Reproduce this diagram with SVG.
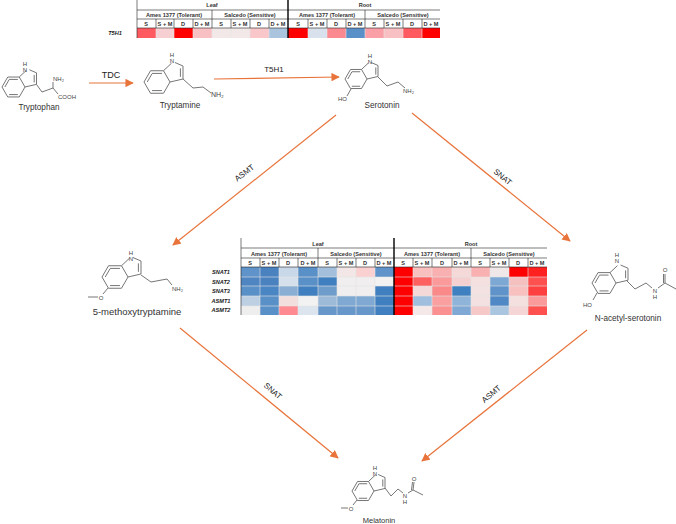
<svg xmlns="http://www.w3.org/2000/svg" width="676" height="524" viewBox="0 0 676 524">
<style>
text{font-family:"Liberation Sans",Arial,sans-serif;fill:#222}
.b{fill:none;stroke:#666;stroke-width:.9;vector-effect:non-scaling-stroke}
.a{fill:#444;font-size:6px}
.m{fill:#333;font-size:8.200px;text-anchor:middle}
.e{fill:#222;font-size:8px;text-anchor:middle}
.h{font-size:5.600px;font-weight:bold;text-anchor:middle;fill:#333}
.g{font-size:5.600px;font-weight:bold;font-style:italic;text-anchor:middle;fill:#222}
.l{stroke:#222;stroke-width:.6;fill:none}
.w{stroke:#e4e4e4;stroke-width:.6;fill:none}
.t{stroke:#000;stroke-width:1.400;fill:none}
.c{fill:none;stroke:#e8743b;stroke-width:1.200;marker-end:url(#ah)}
</style>
<defs>
<marker id="ah" viewBox="0 0 10 10" refX="9" refY="5" markerWidth="7" markerHeight="7" orient="auto"><path d="M0 0L10 5L0 10z" fill="#e8743b"/></marker>
<path id="indole" class="b" d="M-20 0L-15 -8.660L-5 -8.660L0 0L-5 8.660L-15 8.660ZM-17.500 0L-13.800 -6.400M-6.200 -6.600H-13.800M-6.200 6.600H-13.800M-5 -8.660L1.200 -14.500M3.800 -15L10 -12.300L10 -2.300L0 0M8 -10.500V-4"/>
</defs>
<rect width="676" height="524" fill="#fff"/>
<g id="connectors">
<path class="c" d="M89 83H133"/>
<path class="c" d="M214 79L339 77"/>
<path class="c" d="M336 115L173 245"/>
<path class="c" d="M412 113L570 241"/>
<path class="c" d="M180 328L338 458"/>
<path class="c" d="M587 330L422 461"/>
<text class="e" x="111" y="78" style="font-size:9px">TDC</text>
<text class="e" x="274" y="72">T5H1</text>
<text class="e" transform="translate(246,175) rotate(-38)">ASMT</text>
<text class="e" transform="translate(501,179) rotate(39)">SNAT</text>
<text class="e" transform="translate(271,393) rotate(41)">SNAT</text>
<text class="e" transform="translate(493,396) rotate(-41)">ASMT</text>
</g>
<g id="heatmap-top">
<g id="top-cells">
<rect x="137" y="28" width="19" height="10" fill="#ff5a5f"/><rect x="156" y="28" width="18" height="10" fill="#f6cfd2"/><rect x="174" y="28" width="19" height="10" fill="#ff0000"/><rect x="193" y="28" width="19" height="10" fill="#f9c0c4"/><rect x="212" y="28" width="19" height="10" fill="#f3e8e8"/><rect x="231" y="28" width="19" height="10" fill="#f3e8e8"/><rect x="250" y="28" width="19" height="10" fill="#f9c6ca"/><rect x="269" y="28" width="19" height="10" fill="#aac4de"/><rect x="288" y="28" width="20" height="10" fill="#ff0000"/><rect x="308" y="28" width="19" height="10" fill="#d9e2ec"/><rect x="327" y="28" width="19" height="10" fill="#fb8a90"/><rect x="346" y="28" width="19" height="10" fill="#5a90c8"/><rect x="365" y="28" width="19" height="10" fill="#fa9fa5"/><rect x="384" y="28" width="19" height="10" fill="#f9c0c4"/><rect x="403" y="28" width="19" height="10" fill="#ff5a5f"/><rect x="422" y="28" width="18" height="10" fill="#ff0000"/>
</g>
<path class="w" d="M156 28V38M174 28V38M193 28V38M212 28V38M231 28V38M250 28V38M269 28V38M308 28V38M327 28V38M346 28V38M365 28V38M384 28V38M403 28V38M422 28V38"/>
<path class="l" d="M137 0V38M137 10H440M137 19H440M137 28H440M212 10V28M365 10V28M156 19V28M174 19V28M193 19V28M231 19V28M250 19V28M269 19V28M308 19V28M327 19V28M346 19V28M384 19V28M403 19V28M422 19V28"/>
<path class="t" d="M288 0V38"/>
<text class="h" x="212" y="7">Leaf</text><text class="h" x="365" y="7">Root</text>
<text class="h" x="174" y="16.500">Ames 1377 (Tolerant)</text><text class="h" x="250" y="16.500">Salcedo (Sensitive)</text><text class="h" x="327" y="16.500">Ames 1377 (Tolerant)</text><text class="h" x="403" y="16.500">Salcedo (Sensitive)</text>
<text class="h" x="146" y="26">S</text><text class="h" x="165" y="26">S + M</text><text class="h" x="183" y="26">D</text><text class="h" x="202" y="26">D + M</text><text class="h" x="221" y="26">S</text><text class="h" x="240" y="26">S + M</text><text class="h" x="259" y="26">D</text><text class="h" x="278" y="26">D + M</text><text class="h" x="298" y="26">S</text><text class="h" x="317" y="26">S + M</text><text class="h" x="336" y="26">D</text><text class="h" x="355" y="26">D + M</text><text class="h" x="374" y="26">S</text><text class="h" x="393" y="26">S + M</text><text class="h" x="412" y="26">D</text><text class="h" x="431" y="26">D + M</text>
<text class="g" x="115" y="35">T5H1</text>
</g>
<g id="heatmap-middle">
<g id="mid-cells">
<rect x="241" y="267" width="19" height="10" fill="#5f93c9"/><rect x="260" y="267" width="19" height="10" fill="#4a82c0"/><rect x="279" y="267" width="19" height="10" fill="#c9d8e8"/><rect x="298" y="267" width="20" height="10" fill="#5a90c8"/><rect x="318" y="267" width="19" height="10" fill="#a3bfdc"/><rect x="337" y="267" width="19" height="10" fill="#f3e6e6"/><rect x="356" y="267" width="19" height="10" fill="#fbd0d0"/><rect x="375" y="267" width="19" height="10" fill="#5f93c9"/><rect x="394" y="267" width="19" height="10" fill="#ff0000"/><rect x="413" y="267" width="19" height="10" fill="#f9c0c0"/><rect x="432" y="267" width="20" height="10" fill="#f9b0b0"/><rect x="452" y="267" width="19" height="10" fill="#f5d8d8"/><rect x="471" y="267" width="19" height="10" fill="#f9b0b0"/><rect x="490" y="267" width="19" height="10" fill="#f0e8e8"/><rect x="509" y="267" width="19" height="10" fill="#ff0000"/><rect x="528" y="267" width="19" height="10" fill="#ff2020"/>
<rect x="241" y="277" width="19" height="9" fill="#4f86c2"/><rect x="260" y="277" width="19" height="9" fill="#4a82c0"/><rect x="279" y="277" width="19" height="9" fill="#d5e0ec"/><rect x="298" y="277" width="20" height="9" fill="#5a90c8"/><rect x="318" y="277" width="19" height="9" fill="#4080c0"/><rect x="337" y="277" width="19" height="9" fill="#f0eeee"/><rect x="356" y="277" width="19" height="9" fill="#f0eeee"/><rect x="375" y="277" width="19" height="9" fill="#f2f2f2"/><rect x="394" y="277" width="19" height="9" fill="#ff0000"/><rect x="413" y="277" width="19" height="9" fill="#ff6060"/><rect x="432" y="277" width="20" height="9" fill="#fa9a9a"/><rect x="452" y="277" width="19" height="9" fill="#f5d0d0"/><rect x="471" y="277" width="19" height="9" fill="#f5e0e0"/><rect x="490" y="277" width="19" height="9" fill="#7da8d4"/><rect x="509" y="277" width="19" height="9" fill="#f5c0c0"/><rect x="528" y="277" width="19" height="9" fill="#ff5050"/>
<rect x="241" y="286" width="19" height="10" fill="#5a90c8"/><rect x="260" y="286" width="19" height="10" fill="#4a86c4"/><rect x="279" y="286" width="19" height="10" fill="#8aaed4"/><rect x="298" y="286" width="20" height="10" fill="#4080c0"/><rect x="318" y="286" width="19" height="10" fill="#6f9dcb"/><rect x="337" y="286" width="19" height="10" fill="#f0eeee"/><rect x="356" y="286" width="19" height="10" fill="#f0eeee"/><rect x="375" y="286" width="19" height="10" fill="#4080c0"/><rect x="394" y="286" width="19" height="10" fill="#ff0000"/><rect x="413" y="286" width="19" height="10" fill="#f5d8d8"/><rect x="432" y="286" width="20" height="10" fill="#fa8a8a"/><rect x="452" y="286" width="19" height="10" fill="#3f80c0"/><rect x="471" y="286" width="19" height="10" fill="#f2e2e2"/><rect x="490" y="286" width="19" height="10" fill="#5f93c9"/><rect x="509" y="286" width="19" height="10" fill="#f9c0c0"/><rect x="528" y="286" width="19" height="10" fill="#ff4040"/>
<rect x="241" y="296" width="19" height="10" fill="#bccfe3"/><rect x="260" y="296" width="19" height="10" fill="#5a90c8"/><rect x="279" y="296" width="19" height="10" fill="#f3dede"/><rect x="298" y="296" width="20" height="10" fill="#f2f2f2"/><rect x="318" y="296" width="19" height="10" fill="#9dbad9"/><rect x="337" y="296" width="19" height="10" fill="#7fa8d2"/><rect x="356" y="296" width="19" height="10" fill="#7fa8d2"/><rect x="375" y="296" width="19" height="10" fill="#4080c0"/><rect x="394" y="296" width="19" height="10" fill="#ff0000"/><rect x="413" y="296" width="19" height="10" fill="#a0bedd"/><rect x="432" y="296" width="20" height="10" fill="#faa0a0"/><rect x="452" y="296" width="19" height="10" fill="#8fb4d9"/><rect x="471" y="296" width="19" height="10" fill="#f3e0e0"/><rect x="490" y="296" width="19" height="10" fill="#4f88c5"/><rect x="509" y="296" width="19" height="10" fill="#f5e0e0"/><rect x="528" y="296" width="19" height="10" fill="#fa9a9a"/>
<rect x="241" y="306" width="19" height="9" fill="#eeeeee"/><rect x="260" y="306" width="19" height="9" fill="#5a90c8"/><rect x="279" y="306" width="19" height="9" fill="#ff8a90"/><rect x="298" y="306" width="20" height="9" fill="#dce4ee"/><rect x="318" y="306" width="19" height="9" fill="#6898ca"/><rect x="337" y="306" width="19" height="9" fill="#6898ca"/><rect x="356" y="306" width="19" height="9" fill="#6898ca"/><rect x="375" y="306" width="19" height="9" fill="#4080c0"/><rect x="394" y="306" width="19" height="9" fill="#ff0000"/><rect x="413" y="306" width="19" height="9" fill="#f5e8e8"/><rect x="432" y="306" width="20" height="9" fill="#fa9090"/><rect x="452" y="306" width="19" height="9" fill="#7fa9d4"/><rect x="471" y="306" width="19" height="9" fill="#f7c8c8"/><rect x="490" y="306" width="19" height="9" fill="#a9c5e0"/><rect x="509" y="306" width="19" height="9" fill="#f5d5d5"/><rect x="528" y="306" width="19" height="9" fill="#ff5050"/>
</g>
<path class="w" d="M241 277H547M241 286H547M241 296H547M241 306H547M260 267V315M279 267V315M298 267V315M318 267V315M337 267V315M356 267V315M375 267V315M413 267V315M432 267V315M452 267V315M471 267V315M490 267V315M509 267V315M528 267V315"/>
<path class="l" d="M241 238V315M241 248H547M241 258H547M241 267H547M318 248V267M471 248V267M260 258V267M279 258V267M298 258V267M337 258V267M356 258V267M375 258V267M413 258V267M432 258V267M452 258V267M490 258V267M509 258V267M528 258V267"/>
<path class="t" d="M394 238V315"/>
<text class="h" x="318" y="245.500">Leaf</text><text class="h" x="471" y="245.500">Root</text>
<text class="h" x="279" y="255.500">Ames 1377 (Tolerant)</text><text class="h" x="356" y="255.500">Salcedo (Sensitive)</text><text class="h" x="432" y="255.500">Ames 1377 (Tolerant)</text><text class="h" x="509" y="255.500">Salcedo (Sensitive)</text>
<text class="h" x="250" y="265">S</text><text class="h" x="269" y="265">S + M</text><text class="h" x="288" y="265">D</text><text class="h" x="308" y="265">D + M</text><text class="h" x="327" y="265">S</text><text class="h" x="346" y="265">S + M</text><text class="h" x="365" y="265">D</text><text class="h" x="384" y="265">D + M</text><text class="h" x="403" y="265">S</text><text class="h" x="422" y="265">S + M</text><text class="h" x="442" y="265">D</text><text class="h" x="461" y="265">D + M</text><text class="h" x="480" y="265">S</text><text class="h" x="499" y="265">S + M</text><text class="h" x="518" y="265">D</text><text class="h" x="537" y="265">D + M</text>
<text class="g" x="221" y="274">SNAT1</text><text class="g" x="221" y="284">SNAT2</text><text class="g" x="221" y="293">SNAT3</text><text class="g" x="221" y="303">ASMT1</text><text class="g" x="221" y="312">ASMT2</text>
</g>
<g id="tryptophan">
<use href="#indole" transform="translate(25,87) scale(1.15)"/>
<path class="b" d="M36.500 84.500L42 92L53 88L53 82M53 88L58 94"/>
<text class="a" x="25" y="66" text-anchor="middle">H</text><text class="a" x="25" y="72" text-anchor="middle">N</text>
<text class="a" x="53" y="81">NH₂</text><text class="a" x="58" y="99">COOH</text>
<text class="m" x="39" y="110">Tryptophan</text>
</g>
<g id="tryptamine">
<use href="#indole" transform="translate(170,82) scale(1.3)"/>
<path class="b" d="M183 79L193 88L203 87L211 93"/>
<text class="a" x="172" y="57" text-anchor="middle">H</text><text class="a" x="172" y="63" text-anchor="middle">N</text>
<text class="a" x="211" y="97" style="font-size:7px">NH₂</text>
<text class="m" x="180" y="108">Tryptamine</text>
</g>
<g id="serotonin">
<use href="#indole" transform="translate(367,79) scale(1.1)"/>
<path class="b" d="M378 77L387 86L398 82L405 88M351 89L347 96"/>
<text class="a" x="370" y="58" text-anchor="middle">H</text><text class="a" x="370" y="64" text-anchor="middle">N</text>
<text class="a" x="403" y="93">NH₂</text><text class="a" x="338" y="101">HO</text>
<text class="m" x="382" y="108">Serotonin</text>
</g>
<g id="methoxytryptamine">
<use href="#indole" transform="translate(128,277) scale(1.3)"/>
<path class="b" d="M141 275L151 282L167 279L172 285M108 288L103 294M98 297H88"/>
<text class="a" x="131" y="255" text-anchor="middle">H</text><text class="a" x="131" y="261" text-anchor="middle">N</text>
<text class="a" x="101" y="299.500" text-anchor="middle">O</text><text class="a" x="172" y="291">NH₂</text>
<text class="m" x="137" y="315" style="font-size:9.500px">5-methoxytryptamine</text>
</g>
<g id="n-acetyl-serotonin">
<use href="#indole" transform="translate(616,283) scale(1.2)"/>
<path class="b" d="M627 281L635 289L646 283L652 288M658 288L665 283L665 274M663.500 283L663.500 274M665 283L676 289M597 293L593 300"/>
<text class="a" x="617" y="257" text-anchor="middle">H</text><text class="a" x="617" y="263" text-anchor="middle">N</text>
<text class="a" x="655" y="293" text-anchor="middle">N</text><text class="a" x="655" y="299" text-anchor="middle">H</text>
<text class="a" x="665" y="272" text-anchor="middle">O</text><text class="a" x="583" y="307">HO</text>
<text class="m" x="628" y="321">N-acetyl-serotonin</text>
</g>
<g id="melatonin">
<use href="#indole" transform="translate(374,491) scale(1.1)"/>
<path class="b" d="M385 488L391 496L398 489L403 493M408 493L413 490L414 482M411.500 490L412.500 482M413 490L423 495M357 500L353 505M348 508H341"/>
<text class="a" x="375" y="470" text-anchor="middle">H</text><text class="a" x="375" y="476" text-anchor="middle">N</text>
<text class="a" x="405" y="498" text-anchor="middle">N</text><text class="a" x="405" y="504" text-anchor="middle">H</text>
<text class="a" x="414" y="481" text-anchor="middle">O</text><text class="a" x="351" y="510.500" text-anchor="middle">O</text>
<text class="m" x="379" y="523" style="font-size:7.500px">Melatonin</text>
</g>
</svg>
